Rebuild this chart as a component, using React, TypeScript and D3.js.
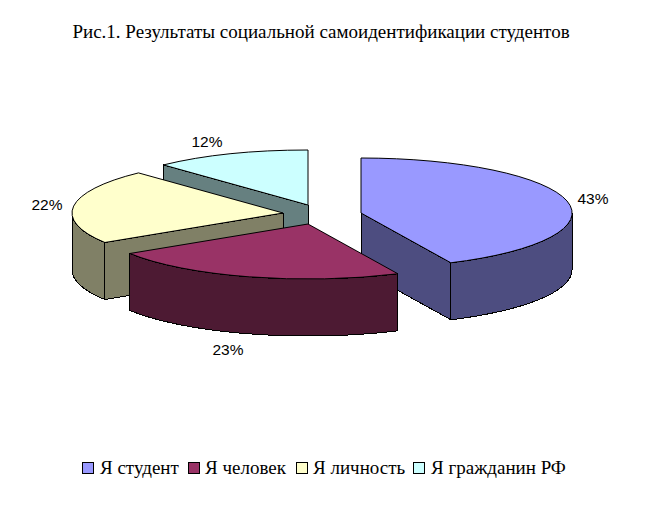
import { arc as d3arc, line as d3line, pie as d3pie, range, scaleOrdinal } from "d3";

const title = "Рис.1. Результаты социальной самоидентификации студентов";
const categories = ["Я студент", "Я человек", "Я личность", "Я гражданин РФ"];
const values = [43, 23, 22, 12];
const topColors = ["#9999ff", "#993366", "#ffffcc", "#ccffff"];
const sideColors = ["#4d4d80", "#4d1a33", "#808066", "#668080"];

// layout
const rx = 211;
const ry = 55;
const depth = 57;
const explodedCenters = [[361, 213], [308, 224], [283, 213], [308, 205]];
const labelCenters = [[593, 198], [228, 349], [47, 204], [207, 141]];
const legendSwatchX = [82, 188, 296, 413];
const legendTextX = [100, 205, 313, 431];

const topColor = scaleOrdinal<string, string>().domain(categories).range(topColors);
const sideColor = scaleOrdinal<string, string>().domain(categories).range(sideColors);

const slices = d3pie<number>().sort(null)(values);
const unitArc = d3arc<any>().innerRadius(0).outerRadius(1);

type Pt = [number, number];
const onRim = (a: number): Pt => [rx * Math.sin(a), -ry * Math.cos(a)];
const toPath = d3line<Pt>();

// front facing part of the outer wall, between the angles given
function rimWall(a0: number, a1: number) {
  const from = Math.max(a0, Math.PI / 2);
  const to = Math.min(a1, (3 * Math.PI) / 2);
  if (to <= from) return null;
  const rim = range(0, 41).map((i) => onRim(from + ((to - from) * i) / 40));
  const lower = rim.map(([x, y]) => [x, y + depth] as Pt).reverse();
  return toPath([...rim, ...lower]) + "Z";
}

// radial cut wall, only the cuts that face the viewer
function cutWall(a: number) {
  const [x, y] = onRim(a);
  return toPath([[0, 0], [x, y], [x, y + depth], [0, depth]]) + "Z";
}

const cutAngle = [
  (s: any) => s.endAngle,
  () => null,
  (s: any) => s.startAngle,
  (s: any) => s.startAngle,
];

// back slices first so the front ones overlap them
const drawOrder = [3, 2, 0, 1];

export default function App() {
  return (
    <svg
      width={645}
      height={519}
      viewBox="0 0 645 519"
      style={{ position: "absolute", left: 0, top: 0, background: "#fff" }}
    >
      <text x={321} y={38} textAnchor="middle" fontFamily="Liberation Serif" fontSize={19} fill="#000">
        {title}
      </text>

      {drawOrder.map((i) => {
        const s = slices[i];
        const [cx, cy] = explodedCenters[i];
        const name = categories[i];
        const cut = cutAngle[i](s);
        const wall = rimWall(s.startAngle, s.endAngle);
        return (
          <g
            key={name}
            transform={`translate(${cx},${cy})`}
            stroke="#000"
            strokeWidth={1}
            strokeLinejoin="round"
            shapeRendering="crispEdges"
          >
            {cut !== null && <path d={cutWall(cut)} fill={sideColor(name)} />}
            {wall && <path d={wall} fill={sideColor(name)} />}
            <path
              d={unitArc(s) ?? undefined}
              transform={`scale(${rx},${ry})`}
              fill={topColor(name)}
              vectorEffect="non-scaling-stroke"
            />
          </g>
        );
      })}

      {values.map((v, i) => (
        <text
          key={categories[i]}
          x={labelCenters[i][0]}
          y={labelCenters[i][1]}
          textAnchor="middle"
          dominantBaseline="central"
          fontFamily="Liberation Sans"
          fontSize={15.5}
          fill="#000"
        >
          {v}%
        </text>
      ))}

      {categories.map((name, i) => (
        <g key={name}>
          <rect
            x={legendSwatchX[i] + 0.5}
            y={462.5}
            width={11}
            height={11}
            fill={topColor(name)}
            stroke="#000"
            strokeWidth={1}
            shapeRendering="crispEdges"
          />
          <text x={legendTextX[i]} y={474} fontFamily="Liberation Serif" fontSize={19} fill="#000">
            {name}
          </text>
        </g>
      ))}
    </svg>
  );
}
